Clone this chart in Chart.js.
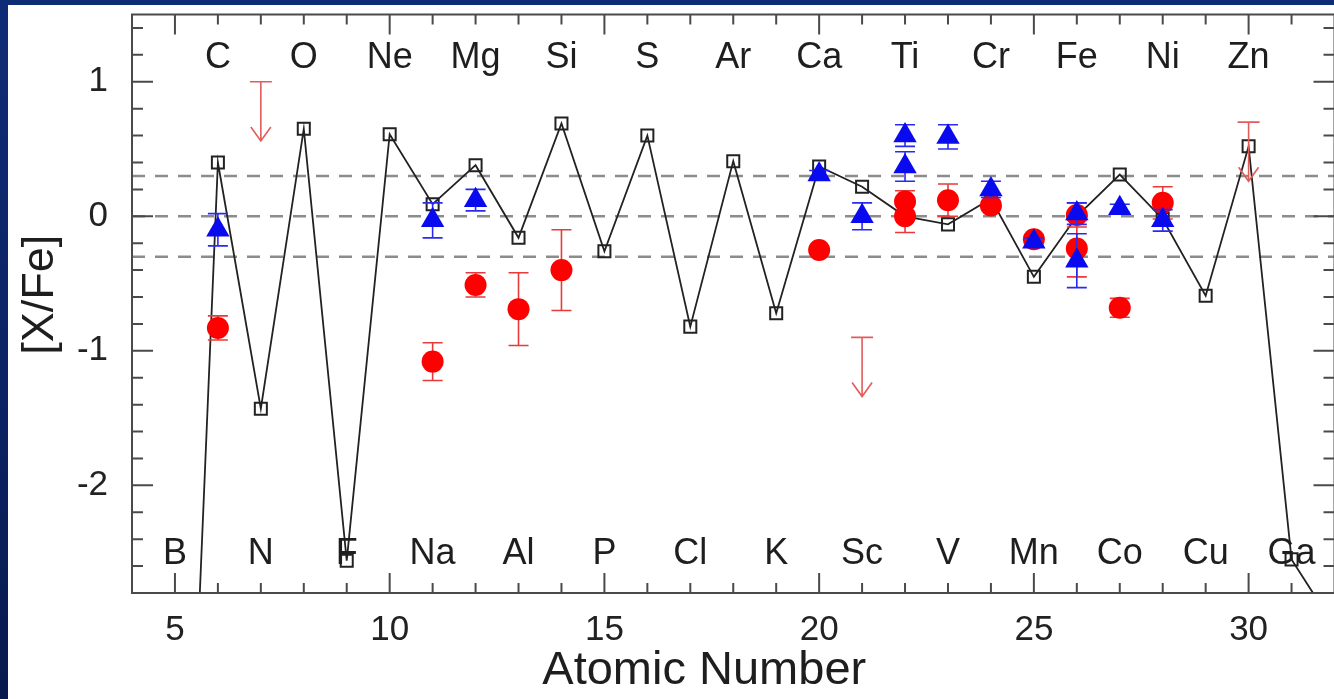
<!DOCTYPE html>
<html>
<head>
<meta charset="utf-8">
<script src="https://cdn.jsdelivr.net/npm/chart.js@4.4.0/dist/chart.umd.min.js"></script>
<style>
  html, body { margin:0; padding:0; width:1334px; height:699px; overflow:hidden;
    background: linear-gradient(180deg, #0e2c76 0%, #0b2262 60%, #081a4c 100%); }
  #painel { position:absolute; left:8px; top:5px; width:1326px; height:694px; background:#fff; }
  #caixa { position:absolute; left:8px; top:1px; width:1340px; height:698px; }
</style>
</head>
<body>
<div id="painel"></div>
<div id="caixa"><canvas id="grafico"></canvas></div>
<script>
// elementos (Z) e rótulos
const simbolos = ["B","C","N","O","F","Ne","Na","Mg","Al","Si","P","S","Cl","Ar","K","Ca","Sc","Ti","V","Cr","Mn","Fe","Co","Ni","Cu","Zn","Ga"];
const simbolosZ = [5,6,7,8,9,10,11,12,13,14,15,16,17,18,19,20,21,22,23,24,25,26,27,28,29,30,31];

// modelo (linha preta com quadrados)
const modeloZ = [5,6,7,8,9,10,11,12,13,14,15,16,17,18,19,20,21,22,23,24,25,26,27,28,29,30,31,32];
const modeloVal = [-7.2,0.40,-1.43,0.65,-2.56,0.61,0.09,0.38,-0.16,0.69,-0.26,0.60,-0.82,0.41,-0.72,0.37,0.22,0.00,-0.06,0.13,-0.45,0.00,0.31,-0.02,-0.59,0.52,-2.55,-3.05];

// observações em vermelho (círculos)
const vermelhoZ = [6,11,12,13,14,20,22,22,23,24,25,26,26,27,28];
const vermelhoVal = [-0.83,-1.08,-0.51,-0.69,-0.40,-0.25,0.11,0.00,0.12,0.08,-0.17,0.01,-0.24,-0.68,0.10];
const vermelhoErr = [0.09,0.14,0.09,0.27,0.30,0.02,0.08,0.12,0.12,0.03,0.03,0.09,0.21,0.07,0.12];

// limites superiores (setas vermelhas)
const limiteZ = [7,21,30];
const limiteVal = [1.00,-0.90,0.70];

// observações em azul (triângulos)
const azulZ = [6,11,12,20,21,22,22,23,24,25,26,26,27,28];
const azulVal = [-0.10,-0.03,0.12,0.31,0.00,0.60,0.37,0.59,0.20,-0.19,0.02,-0.33,0.06,-0.03];
const azulErr = [0.12,0.13,0.08,0.03,0.10,0.08,0.11,0.09,0.06,0.03,0.08,0.20,0.03,0.08];

// linhas tracejadas e marcas dos eixos
const niveis = [0.3, 0, -0.3];
const xTicks = [5,10,15,20,25,30];
const yTicks = [-2,-1,0,1];

const fonte = "'Liberation Sans', Arial, sans-serif";
const pontos = (zs, vs) => zs.map((z, i) => ({x: z, y: vs[i]}));

const linhasRef = {
  id: "linhasRef",
  beforeDatasetsDraw(chart){
    const {ctx, chartArea: a, scales: {y}} = chart;
    ctx.save();
    ctx.strokeStyle = "#8c8c8c"; ctx.lineWidth = 2.5; ctx.setLineDash([13, 10]);
    niveis.forEach(v => {
      const py = y.getPixelForValue(v);
      ctx.beginPath(); ctx.moveTo(a.left, py); ctx.lineTo(a.right, py); ctx.stroke();
    });
    ctx.restore();
  }
};

const barrasErro = {
  id: "barrasErro",
  beforeDatasetDraw(chart, args){
    const ds = chart.data.datasets[args.index];
    if(!ds.erros) return;
    const {ctx, chartArea: a, scales: {y}} = chart;
    ctx.save();
    ctx.beginPath(); ctx.rect(a.left, a.top, a.right - a.left, a.bottom - a.top); ctx.clip();
    ctx.strokeStyle = ds.corErro; ctx.lineWidth = 1.6;
    args.meta.data.forEach((p, i) => {
      const v = ds.data[i].y, e = ds.erros[i];
      const y1 = y.getPixelForValue(v + e), y2 = y.getPixelForValue(v - e);
      ctx.beginPath();
      ctx.moveTo(p.x, y1); ctx.lineTo(p.x, y2);
      ctx.moveTo(p.x - 10, y1); ctx.lineTo(p.x + 10, y1);
      ctx.moveTo(p.x - 10, y2); ctx.lineTo(p.x + 10, y2);
      ctx.stroke();
    });
    ctx.restore();
  }
};

const setas = {
  id: "setas",
  afterDatasetDraw(chart, args){
    const ds = chart.data.datasets[args.index];
    if(!ds.limite) return;
    const {ctx, scales: {y}} = chart;
    ctx.save();
    ctx.strokeStyle = "#e35b5b"; ctx.lineWidth = 1.6;
    args.meta.data.forEach((p, i) => {
      const ponta = y.getPixelForValue(ds.data[i].y - 0.44);
      ctx.beginPath();
      ctx.moveTo(p.x - 11, p.y); ctx.lineTo(p.x + 11, p.y);
      ctx.moveTo(p.x, p.y); ctx.lineTo(p.x, ponta);
      ctx.moveTo(p.x - 10, ponta - 14); ctx.lineTo(p.x, ponta); ctx.lineTo(p.x + 10, ponta - 14);
      ctx.stroke();
    });
    ctx.restore();
  }
};

const rotulos = {
  id: "rotulos",
  afterDatasetsDraw(chart){
    const {ctx, chartArea: a, scales: {x}} = chart;
    ctx.save();
    ctx.fillStyle = "#1e1e1e"; ctx.font = "36px " + fonte; ctx.textAlign = "center"; ctx.textBaseline = "alphabetic";
    simbolos.forEach((s, i) => {
      const z = simbolosZ[i];
      const py = z % 2 === 0 ? a.top + 53 : a.bottom - 29;
      ctx.fillText(s, x.getPixelForValue(z), py);
    });
    ctx.restore();
  }
};

const moldura = {
  id: "moldura",
  afterDraw(chart){
    const {ctx, chartArea: a, scales: {x, y}} = chart;
    ctx.save();
    ctx.strokeStyle = "#4a4a4a"; ctx.lineWidth = 2;
    ctx.strokeRect(a.left, a.top, a.right - a.left, a.bottom - a.top);
    ctx.beginPath();
    for(let v = Math.floor(x.min) + 1; v < x.max; v++){
      const px = x.getPixelForValue(v);
      const len = v % 5 === 0 ? 20 : 10;
      ctx.moveTo(px, a.bottom); ctx.lineTo(px, a.bottom - len);
      ctx.moveTo(px, a.top); ctx.lineTo(px, a.top + len);
    }
    for(let k = Math.round(y.min * 5) + 1; k < Math.round(y.max * 5); k++){
      const py = y.getPixelForValue(k / 5);
      const len = k % 5 === 0 ? 21 : 11;
      ctx.moveTo(a.left, py); ctx.lineTo(a.left + len, py);
      ctx.moveTo(a.right, py); ctx.lineTo(a.right - len, py);
    }
    ctx.stroke();

    // títulos dos eixos
    ctx.fillStyle = "#1e1e1e"; ctx.font = "47px " + fonte;
    ctx.textAlign = "center"; ctx.textBaseline = "alphabetic";
    ctx.fillText("Atomic Number", (a.left + a.right) / 2 - 29, a.bottom + 91);
    ctx.font = "45px " + fonte;
    ctx.translate(a.left - 79, (a.top + a.bottom) / 2 - 9);
    ctx.rotate(-Math.PI / 2);
    ctx.fillText("[X/Fe]", 0, 0);
    ctx.restore();
  }
};

new Chart(document.getElementById("grafico"), {
  type: "scatter",
  data: {
    datasets: [
      {data: pontos(azulZ, azulVal), erros: azulErr, corErro: "#2b2bf0", order: 0,
       pointStyle: "triangle", pointRadius: 13.5, pointBackgroundColor: "#0a0aee", pointBorderWidth: 0},
      {data: pontos(vermelhoZ, vermelhoVal), erros: vermelhoErr, corErro: "#e83a3a", order: 1,
       pointStyle: "circle", pointRadius: 11, pointBackgroundColor: "#ff0000", pointBorderWidth: 0},
      {data: pontos(limiteZ, limiteVal), limite: true, order: 2, pointRadius: 0},
      {data: pontos(modeloZ, modeloVal), showLine: true, order: 3,
       borderColor: "#222", borderWidth: 1.8,
       pointStyle: "rect", pointRadius: 8.5, pointBorderWidth: 2, pointBorderColor: "#222",
       pointBackgroundColor: "rgba(0,0,0,0)"}
    ]
  },
  options: {
    responsive: true, maintainAspectRatio: false, animation: false,
    layout: {padding: {top: 5, right: 9, left: 0, bottom: 0}},
    plugins: {legend: {display: false}, tooltip: {enabled: false}},
    scales: {
      x: {type: "linear", min: 4, max: 32,
          grid: {display: false, drawTicks: false}, border: {display: false},
          afterBuildTicks: s => { s.ticks = xTicks.map(v => ({value: v})); },
          afterFit: s => { s.height = 106; s.paddingLeft = 0; s.paddingRight = 0; },
          ticks: {autoSkip: false, maxRotation: 0, padding: 16, color: "#222", font: {family: fonte, size: 35}}},
      y: {type: "linear", min: -2.8, max: 1.5,
          grid: {display: false, drawTicks: false}, border: {display: false},
          afterBuildTicks: s => { s.ticks = yTicks.map(v => ({value: v})); },
          afterFit: s => { s.width = 124; s.paddingTop = 0; s.paddingBottom = 0; },
          ticks: {autoSkip: false, padding: 24, color: "#222", font: {family: fonte, size: 35}}}
    }
  },
  plugins: [linhasRef, barrasErro, setas, rotulos, moldura]
});
</script>
</body>
</html>
